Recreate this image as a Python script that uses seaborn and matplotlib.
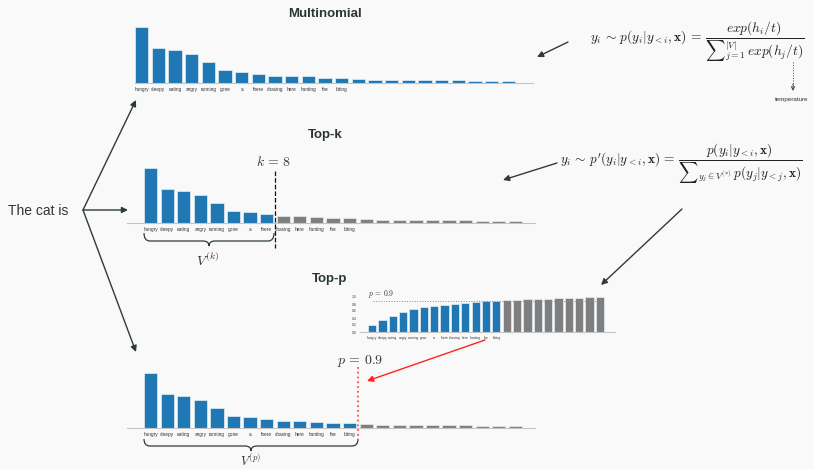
import numpy as np
import pandas as pd
import matplotlib.pyplot as plt
from matplotlib.path import Path
from matplotlib.patches import PathPatch
import seaborn as sns

# next-token probabilities for "The cat is ..."
words = ['hungry', 'sleepy', 'eating', 'angry', 'running', 'gone', 'a', 'there',
         'chasing', 'here', 'hunting', 'the', 'biting']
probs = [0.212, 0.131, 0.125, 0.109, 0.079, 0.048, 0.042, 0.033, 0.028, 0.028,
         0.025, 0.019, 0.018, 0.016, 0.011, 0.011, 0.010, 0.010, 0.010, 0.010,
         0.009, 0.009, 0.008]
top_k = 8
top_p = 0.9
n_nucleus = 13

n = len(probs)
labels = words + [''] * (n - len(words))
cum = np.cumsum(probs)

BLUE = '#1f77b4'
GRAY = '#7f7f7f'
DARK = '#2e3b3b'
BG = '#f9f9f9'

sns.set_theme(style='white')
plt.rcParams['font.family'] = ['Liberation Sans', 'DejaVu Sans']
plt.rcParams['mathtext.fontset'] = 'cm'

W, H = 814, 469
fig = plt.figure(figsize=(W / 100, H / 100), dpi=100, facecolor=BG)


def px_axes(left, top, right, bottom):
    ax = fig.add_axes([left / W, 1 - bottom / H, (right - left) / W, (bottom - top) / H])
    ax.set_facecolor('none')
    return ax


def bars(ax, vals, keep, bar_left, bar_right, label_size, ymax):
    d = pd.DataFrame({'idx': np.arange(n), 'val': vals,
                      'grp': np.where(np.arange(n) < keep, 'in', 'out')})
    sns.barplot(data=d, x='idx', y='val', hue='grp', palette={'in': BLUE, 'out': GRAY},
                dodge=False, legend=False, width=0.8, saturation=1,
                edgecolor='#e6eef5', linewidth=0.5, ax=ax)
    # place bars at their pixel positions
    pos = ax.get_position()
    ax_left, ax_right = pos.x0 * W, pos.x1 * W
    pitch = (bar_right - bar_left) / (n - 1 + 0.8)
    ax.set_xlim(-0.4 - (bar_left - ax_left) / pitch, -0.4 + (ax_right - bar_left) / pitch)
    ax.set_ylim(0, ymax)
    ax.set_xticks(range(n))
    ax.set_xticklabels(labels, fontsize=label_size, color='#333333')
    ax.tick_params(axis='x', length=1.2, width=0.4, color='#bbbbbb', pad=1.5)
    ax.set_xlabel('')
    ax.set_ylabel('')
    ax.set_yticks([])
    for s in ['top', 'right', 'left']:
        ax.spines[s].set_visible(False)
    ax.spines['bottom'].set_color('#c4c4c4')
    ax.spines['bottom'].set_linewidth(0.8)


# Multinomial
ax1 = px_axes(135, 27, 533, 83)
bars(ax1, probs, n, 135, 515, 3.4, max(probs))

# Top-k
ax2 = px_axes(127, 168, 535, 223)
bars(ax2, probs, top_k, 144, 522, 3.4, max(probs))

# Top-p cumulative
ax3 = px_axes(360, 297, 615, 332)
bars(ax3, cum, n_nucleus, 368, 604, 2.4, 1.0)
ax3.set_yticks(np.arange(0, 1.01, 0.2))
ax3.set_yticklabels([f'{v:.1f}' for v in np.arange(0, 1.01, 0.2)], fontsize=2.4, color='#333333')
ax3.tick_params(axis='y', length=1.2, width=0.4, color='#bbbbbb', pad=1)
ax3.axhline(top_p, xmin=0.05, xmax=0.94, color='#ff5555', ls=':', lw=0.7)
ax3.text(0.03, top_p + 0.02, r'$p\,=\,0.9$', transform=ax3.get_yaxis_transform(),
         fontsize=5.5, color='#333333', va='bottom', ha='left')

# Top-p
ax4 = px_axes(127, 373, 535, 428)
bars(ax4, probs, n_nucleus, 144, 522, 3.4, max(probs))

# overlay for annotations
ov = fig.add_axes([0, 0, 1, 1])
ov.set_xlim(0, W)
ov.set_ylim(H, 0)
ov.axis('off')
ov.patch.set_visible(False)

title_kw = dict(fontsize=9.5, fontweight='bold', color='#2a3535', ha='center', va='center')
ov.text(325, 14, 'Multinomial', **title_kw)
ov.text(325, 135, 'Top-k', **title_kw)
ov.text(330, 279, 'Top-p', **title_kw)

ov.text(8, 211, 'The cat is', fontsize=10, color='#333333', ha='left', va='center')


def arrow(start, end, color=DARK, lw=1.0, scale=9):
    ov.annotate('', xy=end, xytext=start,
                arrowprops=dict(arrowstyle='-|>', color=color, lw=lw,
                                mutation_scale=scale, shrinkA=0, shrinkB=0))


arrow((83, 210), (136, 100))
arrow((83, 210), (128, 210))
arrow((83, 210), (136, 352))
arrow((568, 42), (537, 57))
arrow((557, 163), (503, 180))
arrow((682, 209), (601, 285))
arrow((485, 340), (367, 381), color='#ff2222')

# temperature pointer
ov.plot([793, 793], [62, 86], ls=':', lw=0.7, color='#444444')
ov.annotate('', xy=(793, 91), xytext=(793, 84),
            arrowprops=dict(arrowstyle='->', color='#444444', lw=0.7,
                            mutation_scale=6, shrinkA=0, shrinkB=0))
ov.text(792, 99, 'temperature', fontsize=4.5, color='#333333', ha='center', va='center')

# formulas
ov.text(590, 42, r'$y_i \,\sim\, p(y_i|y_{<i},\mathbf{x}) \,=\, \dfrac{exp(h_i/t)}{{\sum}_{j=1}^{|V|}\, exp(h_j/t)}$',
        fontsize=9.7, color='#222222', ha='left', va='center')
ov.text(560, 164, r'$y_i \,\sim\, p^{\prime}(y_i|y_{<i},\mathbf{x}) \,=\, \dfrac{p(y_i|y_{<i},\mathbf{x})}{{\sum}_{y_j\in V^{(*)}}\, p(y_j|y_{<j},\mathbf{x})}$',
        fontsize=9.6, color='#222222', ha='left', va='center')

# cut-off markers
ov.plot([275, 275], [171, 248], ls='--', lw=0.9, color='#111111')
ov.text(274, 162, r'$k\,=\,8$', fontsize=10, color='#333333', ha='center', va='center')
ov.plot([358, 358], [367, 443], ls=':', lw=1.3, color='#ff4d4d')
ov.text(360, 361, r'$p\,=\,0.9$', fontsize=10, color='#333333', ha='center', va='center')


def brace(x0, x1, y0, h, t, color=DARK):
    xm = (x0 + x1) / 2
    r = 6
    verts = [(x0, y0), (x0, y0 + h), (x0 + r, y0 + h),
             (xm - r, y0 + h), (xm, y0 + h), (xm, y0 + h + t),
             (xm, y0 + h), (xm + r, y0 + h),
             (x1 - r, y0 + h), (x1, y0 + h), (x1, y0)]
    codes = [Path.MOVETO, Path.CURVE3, Path.CURVE3,
             Path.LINETO, Path.CURVE3, Path.CURVE3,
             Path.CURVE3, Path.CURVE3,
             Path.LINETO, Path.CURVE3, Path.CURVE3]
    ov.add_patch(PathPatch(Path(verts, codes), fill=False, lw=0.9, color=color))


brace(144, 274, 233, 8, 5)
ov.text(208, 252, r'$V^{(k)}$', fontsize=10, color='#333333', ha='center', va='top')
brace(144, 358, 439, 7, 5)
ov.text(251, 453, r'$V^{(p)}$', fontsize=9, color='#333333', ha='center', va='top')

fig.savefig('out.png', dpi=100, facecolor=BG)
